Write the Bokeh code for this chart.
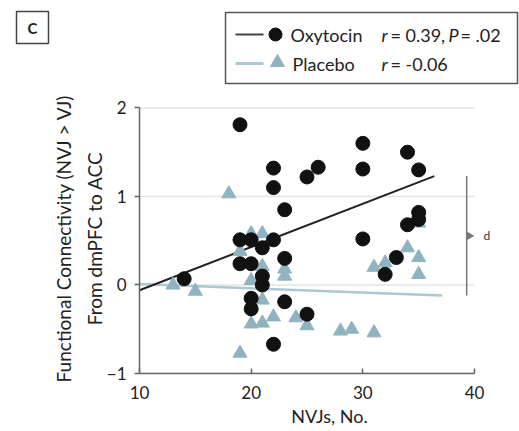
import math

from bokeh.core.properties import value
from bokeh.embed import file_html
from bokeh.layouts import column
from bokeh.models import FixedTicker, Label, Range1d
from bokeh.plotting import figure
from bokeh.resources import INLINE

# Oxytocin group: number of NVJs vs. functional connectivity (NVJ > VJ)
oxy_nvj = [14, 19, 22, 22, 23, 25, 26, 30, 30, 34, 35, 35, 35, 34, 30, 33, 32,
           19, 20, 21, 22, 19, 20, 23, 21, 21, 20, 20, 23, 22, 25]
oxy_fc = [0.07, 1.81, 1.32, 1.10, 0.85, 1.22, 1.33, 1.60, 1.31, 1.50, 1.30, 0.82, 0.74, 0.68, 0.52, 0.31, 0.12,
          0.51, 0.51, 0.42, 0.51, 0.24, 0.24, 0.30, 0.10, 0.00, -0.15, -0.27, -0.19, -0.67, -0.33]

# Placebo group
pla_nvj = [13, 15, 18, 19, 19, 20, 20, 20, 21, 21, 21, 21, 22, 23, 23, 24, 25,
           28, 29, 31, 31, 32, 34, 35, 35, 35]
pla_fc = [0.00, -0.07, 1.03, 0.38, -0.77, 0.58, 0.05, -0.44, 0.58, 0.21, -0.17, -0.43, -0.36, 0.18, 0.10, -0.37, -0.46,
          -0.52, -0.50, -0.54, 0.20, 0.25, 0.42, 0.31, 0.12, 0.70]

# Fitted regression lines (end points)
oxy_fit_x = [10, 36.4]
oxy_fit_y = [-0.06, 1.23]
pla_fit_x = [10, 37.1]
pla_fit_y = [0.01, -0.12]

x_ticks = [10, 20, 30, 40]
y_ticks = [-1, 0, 1, 2]

FONT = "Lato"
TXT = "#222222"
OXY_COLOR = "#111111"
PLA_COLOR = "#8fb3c0"
PLA_LINE = "#a9c9d3"
AXIS = "#666666"

# ---- header strip: panel letter and legend (drawn in pixel coordinates) ----
W = 519
HEAD_H = 88
leg = figure(width=W, height=HEAD_H, x_range=Range1d(0, W), y_range=Range1d(HEAD_H, 0),
             x_axis_type=None, y_axis_type=None, output_backend="svg", toolbar_location=None,
             min_border=0, outline_line_color=None)
leg.frame_align = False
leg.grid.visible = False

leg.quad(left=[16], right=[48], top=[11], bottom=[43], fill_color="white",
         line_color="#444444", line_width=1.5)
leg.text(x=[32], y=[27.5], text=["C"], text_font=value(FONT), text_font_style="bold",
         text_font_size="15px", text_align="center", text_baseline="middle", text_color=TXT)

leg.quad(left=[225], right=[517], top=[12], bottom=[83], fill_color="white",
         line_color="#555555", line_width=1.5)
ROW1, ROW2 = 34, 63
leg.line(x=[235, 263], y=[ROW1, ROW1], line_color="#444444", line_width=2)
leg.scatter(x=[275], y=[ROW1], marker="circle", size=13, fill_color=OXY_COLOR, line_color=OXY_COLOR)
leg.line(x=[235, 263], y=[ROW2, ROW2], line_color=PLA_LINE, line_width=3)
leg.scatter(x=[277], y=[ROW2 - 1], marker="triangle", size=14, fill_color=PLA_COLOR, line_color=PLA_COLOR)

def head_text(x, y, s, style="normal"):
    leg.text(x=[x], y=[y], text=[s], text_font=value(FONT), text_font_size="18px",
             text_font_style=style, text_baseline="middle", text_color=TXT)

head_text(290, ROW1, "Oxytocin")
head_text(381, ROW1, "r", "italic")
head_text(390, ROW1, "= 0.39,")
head_text(448, ROW1, "P", "italic")
head_text(460, ROW1, "= .02")
head_text(292, ROW2, "Placebo")
head_text(381, ROW2, "r", "italic")
head_text(390, ROW2, "= -0.06")

# ---- scatter panel ----
# the frame runs to the right edge so the bracket label fits; axes are bounded to 10-40 / -1..2
p = figure(width=W, height=431 - HEAD_H, x_range=Range1d(10, 44.03), y_range=Range1d(-1, 2.05),
           output_backend="svg", toolbar_location=None, outline_line_color=None,
           min_border_left=139, min_border_right=0, min_border_top=15, min_border_bottom=58)
p.frame_align = False
p.grid.visible = False

for ax in (p.xaxis, p.yaxis):
    ax.axis_line_color = AXIS
    ax.axis_line_width = 1.5
    ax.major_tick_line_color = AXIS
    ax.major_tick_line_width = 1.5
    ax.minor_tick_line_color = None
    ax.major_label_text_font = FONT
    ax.major_label_text_font_size = "17px"
    ax.major_label_text_color = TXT
    ax.axis_label_text_font = FONT
    ax.axis_label_text_font_style = "normal"
    ax.axis_label_text_color = TXT

p.xaxis.bounds = (x_ticks[0], x_ticks[-1])
p.xaxis.ticker = FixedTicker(ticks=x_ticks)
p.xaxis.major_tick_in = 5
p.xaxis.major_tick_out = 0
p.xaxis.major_label_standoff = 12
p.xaxis.axis_label = "NVJs, No."
p.xaxis.axis_label_text_font_size = "18px"
p.xaxis.axis_label_standoff = 3

p.yaxis.bounds = (y_ticks[0], y_ticks[-1])
p.yaxis.ticker = FixedTicker(ticks=y_ticks)
p.yaxis.major_tick_in = 0
p.yaxis.major_tick_out = 5
p.yaxis.major_label_standoff = 8
p.yaxis.axis_label = "Functional Connectivity (NVJ > VJ)\nFrom dmPFC to ACC"
p.yaxis.axis_label_text_font_size = "19px"
p.yaxis.axis_label_text_line_height = 1.35
p.yaxis.axis_label_standoff = -2

# horizontal reference lines at the y ticks, spanning the x axis
p.segment(x0=[x_ticks[0]] * len(y_ticks), y0=y_ticks, x1=[x_ticks[-1]] * len(y_ticks), y1=y_ticks,
          line_color="#e4e4e4", line_width=1.5)

p.line(pla_fit_x, pla_fit_y, line_color=PLA_LINE, line_width=2.5)
p.line(oxy_fit_x, oxy_fit_y, line_color="#222222", line_width=2)

p.scatter(pla_nvj, pla_fc, marker="triangle", size=14, fill_color=PLA_COLOR, line_color=PLA_COLOR)
p.scatter(oxy_nvj, oxy_fc, marker="circle", size=14, fill_color=OXY_COLOR, line_color=OXY_COLOR)

# bracket marking the difference between the fitted lines
BRACKET_X = 39.3
p.segment(x0=[BRACKET_X], y0=[oxy_fit_y[-1]], x1=[BRACKET_X], y1=[pla_fit_y[-1]],
          line_color="#777777", line_width=1.5)
p.scatter(x=[BRACKET_X + 0.25], y=[(oxy_fit_y[-1] + pla_fit_y[-1]) / 2], marker="triangle",
          angle=-math.pi / 2, size=7, fill_color="#777777", line_color="#777777")
p.add_layout(Label(x=BRACKET_X + 1.5, y=(oxy_fit_y[-1] + pla_fit_y[-1]) / 2, text="d",
                   text_font=FONT, text_font_size="12px", text_baseline="middle",
                   text_color="#333333"))

layout = column(leg, p, spacing=0)
open("out.html", "w").write(file_html(layout, INLINE))
